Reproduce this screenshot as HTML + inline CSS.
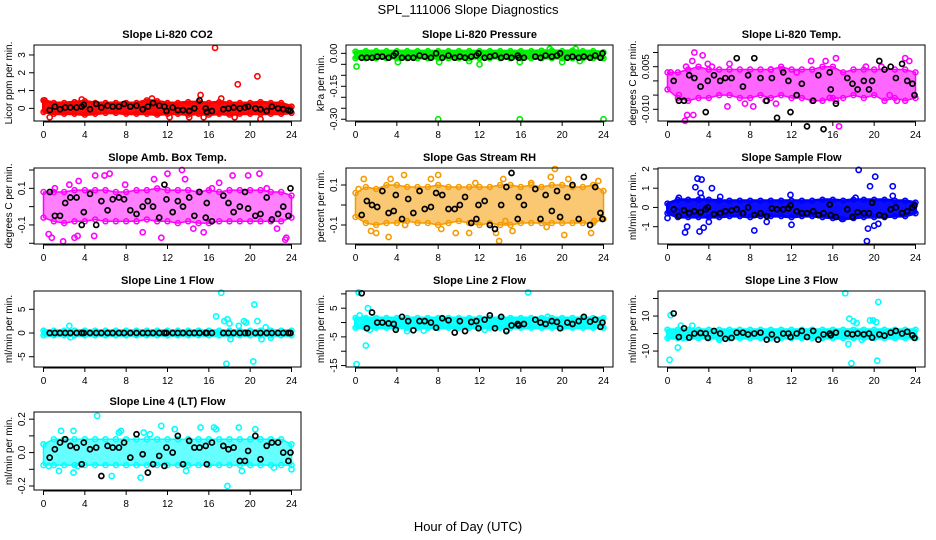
<!DOCTYPE html>
<html><head><meta charset="utf-8"><style>
body{margin:0;background:#fff;}
svg{display:block;font-family:"Liberation Sans",Arial,sans-serif;}
</style></head><body>
<svg id="chart" width="936" height="540" viewBox="0 0 936 540" xmlns="http://www.w3.org/2000/svg">
<rect width="936" height="540" fill="#fff"/>
<text x="468" y="14" font-size="13" text-anchor="middle">SPL_111006  Slope Diagnostics</text>
<text x="468" y="531" font-size="13" text-anchor="middle">Hour of Day (UTC)</text>
</svg>
<script>
const xTicks=[0,4,8,12,16,20,24];
const blackX=[0.6,1.1,1.6,2.1,2.6,3.2,3.7,3.9,4.5,5.1,5.6,6.2,6.7,7.3,7.8,8.4,9.0,9.6,10.1,10.6,11.2,11.7,11.9,12.5,13.0,13.5,14.1,14.6,15.1,15.7,15.8,16.3,17.4,17.9,18.4,19.0,19.5,19.8,20.5,21.0,21.6,22.1,22.7,23.2,23.7,23.9];
const hours=[0,1,2,3,4,5,6,7,8,9,10,11,12,13,14,15,16,17,18,19,20,21,22,23,24];

const co2Black=[-0.1,0.1,-0.05,0.05,0.05,0.05,0.1,0.2,-0.05,0.25,0.05,0.15,0.1,0.1,0.25,0.1,0.15,-0.05,0.1,0.3,0.15,0.1,-0.15,0.05,-0.1,-0.1,-0.15,0,0.45,0,-0.2,-0.15,-0.05,0,0.05,0,0.05,0.1,0,-0.05,-0.15,0.1,0,-0.05,-0.1,-0.15];
const co2Lo=[-0.2,-0.3,-0.3,-0.3,-0.35,-0.3,-0.25,-0.25,-0.3,-0.3,-0.3,-0.35,-0.3,-0.3,-0.35,-0.3,-0.35,-0.3,-0.35,-0.3,-0.3,-0.3,-0.3,-0.3,-0.25];
const co2Hi=[0.45,0.3,0.3,0.35,0.4,0.3,0.3,0.3,0.3,0.3,0.45,0.4,0.3,0.3,0.35,0.35,0.3,0.35,0.3,0.3,0.3,0.35,0.3,0.3,0.1];
const co2Pts=[[16.6,3.4],[20.7,1.8],[18.8,1.35],[15.2,0.75],[17.2,0.55],[21.0,-0.6],[0.6,-0.5],[12.2,-0.5],[14.1,-0.5],[15.5,-0.5],[18.5,-0.5],[3.7,0.5],[10.5,0.55],[0.1,0.45]];

const presBlack=[-0.02,-0.02,-0.02,-0.015,-0.015,-0.02,-0.01,0,-0.02,-0.02,-0.02,-0.01,-0.015,-0.02,0,-0.02,-0.01,-0.02,-0.015,-0.02,-0.015,-0.01,0,-0.02,-0.015,-0.01,-0.02,-0.015,-0.02,-0.01,-0.02,-0.02,-0.015,-0.02,-0.01,-0.015,-0.01,0,-0.02,-0.015,-0.02,-0.015,-0.02,-0.01,-0.02,0];
const presLo=hours.map(()=>-0.022);
const presHi=[0.008,0.01,0.01,0.01,0.01,0.01,0.01,0.01,0.01,0.01,0.01,0.01,0.01,0.01,0.01,0.01,0.01,0.01,0.012,0.012,0.01,0.012,0.01,0.01,0.005];
const presPts=[[0.1,-0.06],[8.0,-0.3],[15.9,-0.3],[24,-0.3],[4.1,-0.04],[8.1,-0.04],[12,-0.05],[15.9,-0.04],[20,-0.04],[18.8,0.02],[21.3,0.02],[11,-0.035],[21.7,-0.035]];

const tempBlack=[0,-0.007,-0.007,0.002,0.001,-0.002,-0.011,0,0.002,0,0.001,0.001,0.008,-0.002,0.002,0.008,0.001,-0.007,0.001,-0.013,0.003,0,-0.011,-0.005,-0.001,-0.016,-0.007,0.002,-0.017,0.003,-0.003,-0.008,0.001,-0.001,-0.003,0,-0.003,0,0.007,0.004,0.005,0.001,0.006,0,-0.001,-0.005];
const tempLo=[-0.003,-0.006,-0.007,-0.006,-0.006,-0.005,-0.005,-0.006,-0.006,-0.005,-0.006,-0.005,-0.006,-0.006,-0.007,-0.007,-0.006,-0.006,-0.005,-0.006,-0.005,-0.007,-0.006,-0.007,-0.006];
const tempHi=[0.003,0.003,0.004,0.005,0.004,0.004,0.004,0.004,0.004,0.004,0.004,0.005,0.004,0.004,0.004,0.005,0.005,0.003,0.004,0.004,0.004,0.004,0.004,0.004,0.003];
const tempPts=[[1.7,-0.014],[1.9,-0.012],[2.5,-0.012],[2.6,0.010],[3.4,0.009],[2.4,0.007],[1.8,0.005],[3.9,0.006],[4.3,0.005],[6.0,0.006],[5.8,-0.009],[7.5,-0.008],[8.3,-0.009],[10,0.004],[10.5,-0.008],[13.9,0.007],[15.3,0.007],[16.3,0.008],[16.6,-0.016],[16.3,-0.007],[15.7,-0.006],[19.2,0.005],[20.7,0.005],[22.2,-0.007],[23,0.008],[23.4,0.007],[0.3,0.003],[1.1,-0.005],[9.5,-0.007],[12.5,0.003],[21.5,-0.005],[11.1,0.004]];

const ambBlack=[0.08,-0.05,-0.05,0.02,0.05,0.05,-0.1,-0.03,0.07,-0.1,0.03,-0.02,0.04,0.05,0.04,-0.02,-0.04,0,0.03,0,-0.06,0.12,0.04,-0.03,0.03,0,0.05,-0.05,0.08,-0.06,0.02,-0.08,0.06,0.02,-0.03,0,0.08,-0.01,-0.05,-0.04,0.05,-0.07,-0.04,0,-0.05,0.1];
const ambLo=[-0.06,-0.08,-0.09,-0.08,-0.08,-0.07,-0.08,-0.08,-0.08,-0.08,-0.07,-0.08,-0.08,-0.09,-0.08,-0.09,-0.09,-0.08,-0.08,-0.08,-0.08,-0.08,-0.08,-0.08,-0.06];
const ambHi=[0.08,0.08,0.08,0.09,0.09,0.09,0.09,0.08,0.08,0.09,0.09,0.1,0.09,0.09,0.09,0.08,0.09,0.08,0.09,0.09,0.09,0.09,0.08,0.08,0.06];
const ambPts=[[0.5,-0.15],[0.8,-0.17],[1.9,-0.19],[3.0,-0.17],[3.3,-0.16],[4.9,-0.16],[1.1,0.1],[2.5,0.12],[3.4,0.14],[5,0.17],[5.9,0.17],[6.4,0.18],[10.7,0.15],[12,0.18],[13.4,0.2],[13.7,0.15],[14.5,-0.12],[15.5,-0.14],[17,0.13],[18.3,0.17],[19.8,0.17],[20.9,0.18],[23.5,-0.17],[23.4,-0.18],[11.4,-0.17],[9.6,-0.14],[7.9,0.12],[21.6,0.1],[22.6,-0.12],[16.3,0.1]];

const rhBlack=[-0.05,0.02,0,-0.01,0.07,-0.04,-0.03,0.05,-0.07,0.03,-0.04,0.07,-0.02,-0.01,0.06,0.05,-0.02,-0.02,0,0.04,-0.09,-0.07,0,0.02,-0.1,-0.12,0,0.09,0.16,-0.07,0.04,0,0.08,-0.07,0.05,-0.03,0.07,-0.06,0.04,0.1,-0.07,0.14,-0.1,0.09,-0.04,-0.07];
const rhLo=[-0.06,-0.09,-0.1,-0.09,-0.09,-0.08,-0.09,-0.09,-0.1,-0.09,-0.08,-0.09,-0.1,-0.09,-0.1,-0.1,-0.09,-0.09,-0.09,-0.09,-0.09,-0.09,-0.09,-0.09,-0.07];
const rhHi=[0.06,0.09,0.08,0.1,0.1,0.09,0.09,0.09,0.1,0.09,0.09,0.09,0.09,0.09,0.1,0.1,0.09,0.1,0.09,0.1,0.1,0.09,0.09,0.1,0.07];
const rhPts=[[0.3,0.08],[0.8,0.13],[1.5,-0.13],[2,-0.14],[3.2,-0.16],[3.4,0.13],[4.7,0.15],[4.8,-0.1],[7.3,0.13],[8.0,0.15],[8.3,-0.12],[9.7,-0.14],[11,-0.14],[11.6,0.11],[13.6,-0.14],[14.3,0.13],[14.5,-0.08],[15.2,-0.13],[18.5,-0.11],[18.9,0.14],[19.3,0.18],[20.2,-0.15],[20.6,0.13],[22.8,-0.14],[23.5,0.12],[23.1,-0.08],[13.9,-0.18],[17.0,0.11]];

const flowBlack=[-0.1,-0.45,-0.15,-0.3,-0.2,-0.25,-0.1,0,-0.35,-0.3,-0.2,-0.15,-0.1,-0.3,0,-0.4,-0.3,-0.45,-0.05,-0.1,-0.1,-0.05,0.1,-0.2,-0.3,-0.3,-0.2,-0.4,-0.3,0.15,-0.4,-0.5,-0.1,-0.5,-0.25,-0.3,-0.3,0.25,-0.4,-0.45,-0.1,0,-0.3,-0.2,0,0.1];
const flowLo=[-0.3,-0.5,-0.5,-0.5,-0.5,-0.5,-0.45,-0.45,-0.5,-0.45,-0.45,-0.45,-0.5,-0.45,-0.45,-0.5,-0.55,-0.6,-0.55,-0.5,-0.5,-0.5,-0.45,-0.45,-0.3];
const flowHi=[0.2,0.4,0.4,0.4,0.4,0.35,0.35,0.35,0.35,0.35,0.35,0.35,0.35,0.35,0.35,0.4,0.4,0.35,0.4,0.4,0.4,0.4,0.35,0.35,0.25];
const flowPts=[[0,-0.55],[1.7,-1.3],[1.9,-1.0],[2.9,1.5],[3.3,1.45],[3.2,0.75],[3.3,0.5],[2.7,1.05],[4.3,1.0],[3.1,-1.25],[3.5,-1.05],[4,-0.75],[8.4,-1.2],[9.6,-0.75],[12,-0.9],[11.9,0.65],[18.5,1.95],[19.3,-1.75],[19.4,-1.1],[19.6,1.1],[20.1,1.6],[20,-0.95],[20.4,-0.85],[21.8,1.1],[21.8,0.6],[18.2,0.5],[16.9,-0.6],[1.1,0.5],[5.1,0.55],[0.9,-0.2]];

const l1Black=blackX.map(()=>0);
const l1Lo=hours.map(()=>-0.5);
const l1Hi=hours.map(()=>0.5);
const l1Pts=[[16.7,3.5],[17.2,8.5],[17.7,-6.5],[17.8,2.9],[18.0,2],[17.5,2.5],[18.9,1.5],[19.4,2.5],[19.6,2.2],[20.3,-6],[20.4,6],[20.7,2.5],[21.1,-1.3],[21.5,1.2],[18.1,-1.3],[2.5,1.5],[2.6,-0.9],[22,-1]];

const l2Black=[10.2,-2,3.5,0,0,-0.3,-0.5,-2.5,2,0.5,-2.7,0.5,0.5,0,-1.8,1.5,0.8,-3.5,0.5,-3,0.2,0.5,-2,1,2.5,-2,2,-3,-1,-0.5,-1,-0.5,1,0,-0.5,0.5,0.2,-2,0,-0.5,0.5,2,0.3,1,-1.5,0];
const l2Lo=hours.map(()=>-1.8);
const l2Hi=hours.map(()=>1.6);
const l2Pts=[[0.3,10.5],[0.4,2.5],[1.2,5],[1.0,-8],[0.1,-14.5],[16.7,10.5],[1.4,-2.5],[0.8,-1.5],[5,-3],[6.6,-2.8],[18.6,2],[12.5,-2.5],[14.6,-2.5]];

const l3Black=[11.5,-2,3,-2.3,0,0.3,0,-2.5,1.5,0,-3,-2.5,0.5,0.5,-0.5,0,0.5,-3.5,-0.5,-3.5,0,0,-2,0,1.5,-2,1.5,-3.5,-0.5,0,-1,0.5,0,-0.5,0,-0.5,0,-2.3,-0.5,-1.2,0.5,1.5,0,1,-1,-2.5];
const l3Lo=hours.map(()=>-2.6);
const l3Hi=hours.map(()=>2.2);
const l3Pts=[[0.2,-15],[0.3,10.5],[1.0,-8],[1.3,4.5],[2.4,4.5],[17.2,23],[17.5,-6],[17.6,8.5],[17.8,-17],[18.0,7],[18.3,6],[19.6,7.5],[19.9,7.5],[20.4,18],[20.3,-15.5],[20.2,6.5],[18.8,-3.5],[5,-3.5],[1.5,-2.5]];

const l4Black=[-0.03,0.02,0.06,0.08,0.04,0.03,-0.07,0.06,0.02,0.03,-0.14,0.04,0.03,0.03,0.06,-0.03,0.11,-0.01,-0.12,-0.07,-0.02,-0.08,0.03,0,0.1,-0.07,0.07,0.03,0.03,0.04,-0.07,0.06,0.04,0.02,0.03,-0.05,-0.05,0.01,0.1,-0.04,0.04,0.06,0.06,0,-0.05,0];
const l4Lo=hours.map(()=>-0.075);
const l4Hi=[0.05,0.08,0.08,0.08,0.08,0.08,0.08,0.08,0.08,0.08,0.08,0.08,0.08,0.08,0.08,0.08,0.08,0.08,0.08,0.08,0.08,0.08,0.08,0.08,0.05];
const l4Pts=[[5.2,0.22],[0.5,-0.08],[1.5,-0.11],[2.9,-0.12],[1.7,0.13],[2.9,0.13],[7.3,0.12],[7.5,0.13],[9.7,0.12],[10.3,0.11],[11.4,0.16],[12.7,0.14],[15.2,0.15],[16.5,0.15],[16.7,0.14],[18.9,0.15],[20.5,0.14],[17.8,-0.2],[19.2,-0.11],[24,-0.1],[13.8,-0.11],[6.6,-0.14],[9.4,-0.15],[10.1,-0.12],[3.3,-0.08],[22.3,-0.09]];

const panels=[
 {name:'li820-co2',title:'Slope Li-820 CO2',ylab:'Licor ppm per min.',col:0,row:0,ylim:[-0.71,3.56],ticks:[0,1,2,3],labels:['0','1','2','3'],color:'#ff0000',op:0.95,sw:3,lo:co2Lo,hi:co2Hi,pts:co2Pts,blk:co2Black},
 {name:'li820-pressure',title:'Slope Li-820 Pressure',ylab:'kPa per min.',col:1,row:0,ylim:[-0.308,0.038],ticks:[0,-0.05,-0.1,-0.15,-0.2,-0.25,-0.3],labels:['0.00','','','-0.15','','','-0.30'],color:'#00ee00',op:0.95,sw:3,lo:presLo,hi:presHi,pts:presPts,blk:presBlack},
 {name:'li820-temp',title:'Slope Li-820 Temp.',ylab:'degrees C per min.',col:2,row:0,ylim:[-0.01412,0.01264],ticks:[0.01,0.005,0,-0.005,-0.01],labels:['','0.005','','','-0.010'],color:'#ff00ff',op:0.6,sw:1.5,lo:tempLo,hi:tempHi,pts:tempPts,blk:tempBlack},
 {name:'amb-box-temp',title:'Slope Amb. Box Temp.',ylab:'degrees C per min.',col:0,row:1,ylim:[-0.204,0.211],ticks:[0.2,0.1,0,-0.1,-0.2],labels:['','0.1','','-0.1',''],color:'#ff00ff',op:0.5,sw:1.5,lo:ambLo,hi:ambHi,pts:ambPts,blk:ambBlack},
 {name:'gas-stream-rh',title:'Slope Gas Stream RH',ylab:'percent per min.',col:1,row:1,ylim:[-0.195,0.185],ticks:[0.1,0,-0.1],labels:['0.1','','-0.1'],color:'#f59a00',op:0.55,sw:1.5,lo:rhLo,hi:rhHi,pts:rhPts,blk:rhBlack},
 {name:'sample-flow',title:'Slope Sample Flow',ylab:'ml/min per min.',col:2,row:1,ylim:[-1.9,2.05],ticks:[2,1,0,-1],labels:['2','1','0','-1'],color:'#0000ff',op:0.95,sw:3,lo:flowLo,hi:flowHi,pts:flowPts,blk:flowBlack},
 {name:'line1-flow',title:'Slope Line 1 Flow',ylab:'ml/min per min.',col:0,row:2,ylim:[-7.17,8.86],ticks:[5,0,-5],labels:['5','0','-5'],color:'#00ffff',op:0.95,sw:3,lo:l1Lo,hi:l1Hi,pts:l1Pts,blk:l1Black},
 {name:'line2-flow',title:'Slope Line 2 Flow',ylab:'ml/min per min.',col:1,row:2,ylim:[-15.5,11.0],ticks:[10,5,0,-5,-10,-15],labels:['','5','','-5','','-15'],color:'#00ffff',op:0.95,sw:3,lo:l2Lo,hi:l2Hi,pts:l2Pts,blk:l2Black},
 {name:'line3-flow',title:'Slope Line 3 Flow',ylab:'ml/min per min.',col:2,row:2,ylim:[-19.1,24.3],ticks:[20,10,0,-10],labels:['','10','','-10'],color:'#00ffff',op:0.95,sw:3,lo:l3Lo,hi:l3Hi,pts:l3Pts,blk:l3Black},
 {name:'line4-flow',title:'Slope Line 4 (LT) Flow',ylab:'ml/min per min.',col:0,row:3,ylim:[-0.224,0.243],ticks:[0.2,0.1,0,-0.1,-0.2],labels:['0.2','','0.0','','-0.2'],color:'#00ffff',op:0.6,sw:1.5,lo:l4Lo,hi:l4Hi,pts:l4Pts,blk:l4Black}
];

const svg=document.getElementById('chart');
const NS='http://www.w3.org/2000/svg';
const colLeft=[34,346,658], rowTop=[45,168,291,412], W=267, BH=[76,76,76,78];
function mk(tag,attrs,parent){const e=document.createElementNS(NS,tag);for(const k in attrs)e.setAttribute(k,attrs[k]);parent.appendChild(e);return e;}

panels.forEach(p=>{
  const L=colLeft[p.col], T=rowTop[p.row], h=BH[p.row];
  const xs=v=>L+9.5+v/24*248;
  const ys=v=>T+h-(v-p.ylim[0])/(p.ylim[1]-p.ylim[0])*h;
  const g=mk('g',{},svg);
  
  
  const t=mk('text',{x:L+W/2,y:T-7,'font-size':11,'font-weight':'bold','text-anchor':'middle'},g);
  
  
  t.textContent=p.title;
  const yl=mk('text',{x:0,y:0,'font-size':10,'text-anchor':'middle',transform:`translate(${L-22},${T+h/2}) rotate(-90)`},g);
  
  
  yl.textContent=p.ylab;
  let d='M'+hours.map((x,i)=>xs(x)+','+ys(p.hi[i])).join(' L');
  d+=' L'+hours.slice().reverse().map((x,i)=>xs(x)+','+ys(p.lo[hours.length-1-i])).join(' L')+' Z';
  const band=mk('path',{d:d,fill:p.color,'fill-opacity':p.op,stroke:p.color,'stroke-width':p.sw,'stroke-linejoin':'round'},g);
  
  
  hours.forEach((x,i)=>{
    [p.hi[i],p.lo[i]].forEach(v=>{
      const c=mk('circle',{cx:xs(x),cy:ys(v),r:2.5,fill:'none',stroke:p.color,'stroke-width':1.5},g);
      
      
    });
  });
  p.pts.forEach(pt=>{
    const c=mk('circle',{cx:xs(pt[0]),cy:ys(pt[1]),r:2.6,fill:'none',stroke:p.color,'stroke-width':1.6},g);
    
    
  });
  blackX.forEach((x,i)=>{
    const c=mk('circle',{cx:xs(x),cy:ys(p.blk[i]),r:2.5,fill:'none',stroke:'#000','stroke-width':1.7},g);
    
    
  });
  const box=mk('rect',{x:L,y:T,width:W,height:h,fill:'none',stroke:'#000','stroke-width':1},g);
  
  
  mk('line',{x1:xs(0),x2:xs(24),y1:T+h+1,y2:T+h+1,stroke:'#000'},g);
  xTicks.forEach(v=>{
    mk('line',{x1:xs(v),x2:xs(v),y1:T+h,y2:T+h+5,stroke:'#000'},g);
    const tl=mk('text',{x:xs(v),y:T+h+17,'font-size':10,'text-anchor':'middle'},g);
    
    
    tl.textContent=v;
  });
  p.ticks.forEach((v,i)=>{
    mk('line',{x1:L-5,x2:L,y1:ys(v),y2:ys(v),stroke:'#000'},g);
    if(p.labels[i]){
      const tl=mk('text',{x:0,y:0,'font-size':10,'text-anchor':'middle',transform:`translate(${L-9},${ys(v)}) rotate(-90)`},g);
      
      
      tl.textContent=p.labels[i];
    }
  });
});
</script>
</body></html>
